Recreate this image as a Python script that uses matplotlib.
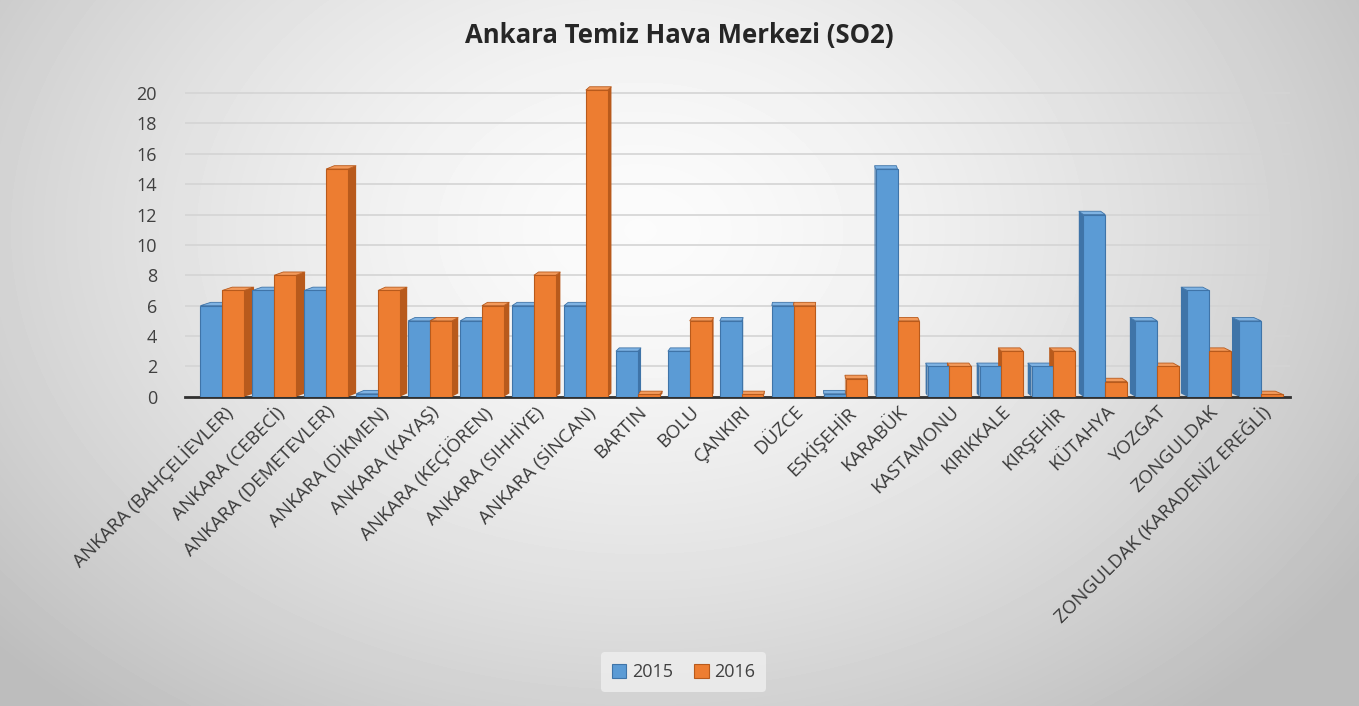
import numpy as np
import matplotlib
matplotlib.use("Agg")
import matplotlib.pyplot as plt
from matplotlib.patches import Polygon

categories = [
    "ANKARA (BAHÇELİEVLER)", "ANKARA (CEBECİ)", "ANKARA (DEMETEVLER)", "ANKARA (DİKMEN)",
    "ANKARA (KAYAŞ)", "ANKARA (KEÇİÖREN)", "ANKARA (SIHHİYE)", "ANKARA (SİNCAN)",
    "BARTIN", "BOLU", "ÇANKIRI", "DÜZCE", "ESKİŞEHİR", "KARABÜK", "KASTAMONU",
    "KIRIKKALE", "KIRŞEHİR", "KÜTAHYA", "YOZGAT", "ZONGULDAK", "ZONGULDAK (KARADENİZ EREĞLİ)",
]
values_2015 = [6, 7, 7, 0.2, 5, 5, 6, 6, 3, 3, 5, 6, 0.2, 15, 2, 2, 2, 12, 5, 7, 5]
values_2016 = [7, 8, 15, 7, 5, 6, 8, 20.2, 0.15, 5, 0.15, 6, 1.2, 5, 2, 3, 3, 1, 2, 3, 0.15]
series_names = ["2015", "2016"]
yticks = list(range(0, 21, 2))
title = "Ankara Temiz Hava Merkezi (SO2)"

front_colors = ["#5B9BD5", "#ED7D31"]
side_colors = ["#3F74A8", "#B85A1C"]
top_colors = ["#7FB3E3", "#F39A5B"]

plt.rcParams['font.family'] = ['Open Sans', 'DejaVu Sans']

fig = plt.figure(figsize=(13.59, 7.06), dpi=100)

# background gradient
bg = fig.add_axes([0, 0, 1, 1], zorder=-10)
yy, xx = np.mgrid[0:706, 0:1359]
r = np.sqrt(((xx - 640) / 850.0) ** 2 + ((yy - 230) / 620.0) ** 2)
shade = np.clip(0.985 - 0.24 * r ** 1.5, 0.74, 1.0)
bg.imshow(shade, cmap='gray', vmin=0, vmax=1, aspect='auto', interpolation='bilinear')
bg.axis('off')

ax = fig.add_axes([0.136, 0.438, 0.813, 0.443])
ax.patch.set_alpha(0)

n = len(categories)
x = np.arange(n)
w = 0.42
xv = 11.5          # vanishing position
kdepth = 0.017     # depth factor
dy = 0.22          # vertical depth offset

series = [values_2015, values_2016]
offsets = [-w / 2, w / 2]

for s, vals in enumerate(series):
    for i, v in enumerate(vals):
        xc = x[i] + offsets[s]
        xl, xr = xc - w / 2, xc + w / 2
        d = kdepth * (xv - xc)
        if d > 0:
            side = [(xr, 0), (xr + d, dy), (xr + d, v + dy), (xr, v)]
        else:
            side = [(xl, 0), (xl + d, dy), (xl + d, v + dy), (xl, v)]
        ax.add_patch(Polygon(side, closed=True, facecolor=side_colors[s], edgecolor='none', zorder=2))
        top = [(xl, v), (xl + d, v + dy), (xr + d, v + dy), (xr, v)]
        ax.add_patch(Polygon(top, closed=True, facecolor=top_colors[s], edgecolor=side_colors[s],
                             linewidth=0.6, zorder=2))

for s, vals in enumerate(series):
    ax.bar(x + offsets[s], vals, width=w, color=front_colors[s], edgecolor=side_colors[s],
           linewidth=0.8, zorder=3, label=series_names[s])

ax.set_xlim(-0.72, n - 0.45)
ax.set_ylim(0, 20.6)
ax.set_yticks(yticks)
ax.set_yticklabels([str(t) for t in yticks], fontsize=13, color='#404040')
ax.yaxis.grid(True, color='#d4d4d4', linewidth=1.2, zorder=0)
ax.set_axisbelow(True)
for sp in ['top', 'right', 'left']:
    ax.spines[sp].set_visible(False)
ax.spines['bottom'].set_color('#303030')
ax.spines['bottom'].set_linewidth(2)
ax.tick_params(axis='both', length=0)
ax.tick_params(axis='y', pad=20)

ax.set_xticks(x + 0.0)
ax.set_xticklabels(categories, rotation=45, ha='right', rotation_mode='anchor',
                   fontsize=13.5, color='#3a3a3a')
ax.tick_params(axis='x', pad=4)

fig.text(0.5, 0.95, title, ha='center', va='center', fontsize=18.5, fontweight='bold', color='#262626')

leg = fig.legend(loc='center', bbox_to_anchor=(0.503, 0.048), ncol=2, frameon=True,
                 fontsize=13, handlelength=0.8, handleheight=0.8, columnspacing=1.2,
                 handletextpad=0.3, borderpad=0.6)
leg.get_frame().set_facecolor('#efefef')
leg.get_frame().set_edgecolor('none')
for t in leg.get_texts():
    t.set_color('#404040')

fig.savefig("out.png", dpi=100)
